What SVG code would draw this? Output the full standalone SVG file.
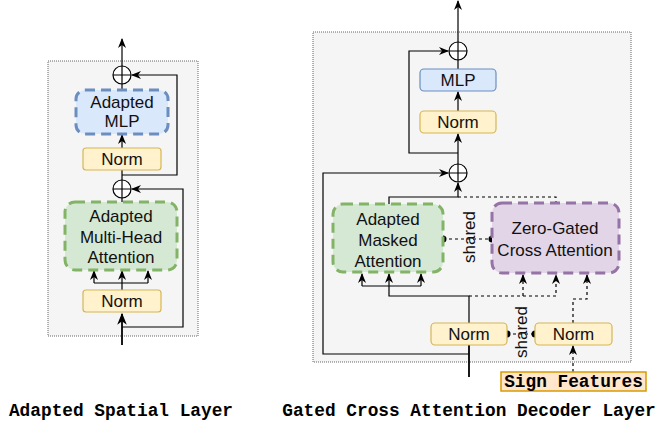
<svg xmlns="http://www.w3.org/2000/svg" width="660" height="423" viewBox="0 0 660 423">
<style>
.panel{fill:#f5f5f5;stroke:#666;stroke-width:1;stroke-dasharray:1 1}
.norm{fill:#fff2cc;stroke:#d6b656;stroke-width:1.2}
.mlp{fill:#dae8fc;stroke:#6c8ebf;stroke-width:1.2}
.amlp{fill:#dae8fc;stroke:#6c8ebf;stroke-width:3;stroke-dasharray:10 6}
.att{fill:#d5e8d4;stroke:#82b366;stroke-width:3;stroke-dasharray:10 6}
.xatt{fill:#e1d5e7;stroke:#9673a6;stroke-width:3;stroke-dasharray:10 6}
.sign{fill:#ffe6cc;stroke:#d79b00;stroke-width:1.5}
.lbl{font-family:"Liberation Sans",Arial,sans-serif;font-size:17px;fill:#111;text-anchor:middle}
.ttl{font-family:"Liberation Mono","Courier New",monospace;font-size:17.8px;font-weight:bold;fill:#000;text-anchor:middle}
.c{fill:none;stroke:#000;stroke-width:1.2}
.thick{stroke-width:1.8}
.d{fill:none;stroke:#000;stroke-width:1.2;stroke-dasharray:3 3}
.plus{fill:#fff;stroke:#000;stroke-width:1.2}
</style>
<defs>
<marker id="arr" viewBox="0 0 10 8" markerWidth="10" markerHeight="8" refX="9" refY="4" orient="auto" markerUnits="userSpaceOnUse">
<path d="M0,0 L10,4 L0,8 L3,4 Z" fill="#000"/>
</marker>
<marker id="arrB" viewBox="0 0 10 8" markerWidth="12" markerHeight="10" refX="9" refY="4" orient="auto" markerUnits="userSpaceOnUse">
<path d="M0,0 L10,4 L0,8 L3,4 Z" fill="#000"/>
</marker>
</defs>

<!-- panels -->
<rect class="panel" x="48" y="61" width="150" height="275"/>
<rect class="panel" x="313" y="32" width="318" height="330"/>

<g id="connectors">
  <!-- left -->
  <path class="c" d="M122,66 V39" marker-end="url(#arr)"/>
  <path class="c" d="M122,90 V84"/>
  <path class="c" d="M122,148 V135" marker-end="url(#arr)"/>
  <path class="c" d="M122,180 V170"/>
  <path class="c" d="M122,175 H177 V75 H132" marker-end="url(#arr)"/>
  <path class="c" d="M122,202 V198"/>
  <path class="c" d="M122,290 V283 M94,283 H148"/>
  <path class="c" d="M94,283 V271" marker-end="url(#arr)"/>
  <path class="c" d="M122,283 V271" marker-end="url(#arr)"/>
  <path class="c" d="M148,283 V271" marker-end="url(#arr)"/>
  <path class="c thick" d="M122,345 V314" marker-end="url(#arrB)"/>
  <path class="c" d="M122,327 H183 V189 H132" marker-end="url(#arr)"/>
  <!-- right -->
  <path class="c" d="M458,42 V1" marker-end="url(#arr)"/>
  <path class="c" d="M458,69 V60"/>
  <path class="c" d="M458,111 V92" marker-end="url(#arr)"/>
  <path class="c" d="M458,153 H409 V51 H448" marker-end="url(#arr)"/>
  <path class="c" d="M458,164 V134" marker-end="url(#arr)"/>
  <path class="c" d="M389,204 V197 H458 V183" marker-end="url(#arr)"/>
  <path class="d" d="M458,197 H556 V203"/>
  <path class="c" d="M469,354 H323 V173 H448" marker-end="url(#arr)"/>
  <path class="c thick" d="M469,377 V345"/>
  <path class="c" d="M469,323 V296 H389 V286 M362,286 H421"/>
  <path class="c" d="M362,286 V274" marker-end="url(#arr)"/>
  <path class="c" d="M389,286 V274" marker-end="url(#arr)"/>
  <path class="c" d="M421,286 V274" marker-end="url(#arr)"/>
  <path class="d" d="M469,296 H556 V275" marker-end="url(#arr)"/>
  <path class="d" d="M523,296 V275" marker-end="url(#arr)"/>
  <path class="d" d="M573,323 V299 H587 V275" marker-end="url(#arr)"/>
  <path class="d" d="M573,372 V346" marker-end="url(#arr)"/>
  <!-- shared links -->
  <path class="d" d="M443,239 H492"/>
  <circle cx="443" cy="239" r="3.5" fill="#000"/>
  <circle cx="492" cy="239" r="3.5" fill="#000"/>
  <path class="d" d="M507,334 H535"/>
  <circle cx="507" cy="334" r="3.5" fill="#000"/>
  <circle cx="535" cy="334" r="3.5" fill="#000"/>
</g>

<!-- left nodes -->
<g id="l-plus1"><circle class="plus" cx="122" cy="75" r="9"/><path class="c" d="M113,75 H131 M122,66 V84"/></g>
<g id="l-mlp"><rect class="amlp" x="76" y="90" width="92" height="44" rx="9"/>
  <text class="lbl" x="122" y="108">Adapted</text><text class="lbl" x="122" y="127">MLP</text></g>
<g id="l-norm1"><rect class="norm" x="83" y="148" width="78" height="22" rx="3"/><text class="lbl" x="122" y="165">Norm</text></g>
<g id="l-plus2"><circle class="plus" cx="122" cy="189" r="9"/><path class="c" d="M113,189 H131 M122,180 V198"/></g>
<g id="l-att"><rect class="att" x="65" y="202" width="112" height="68" rx="10"/>
  <text class="lbl" x="121" y="222">Adapted</text><text class="lbl" x="121" y="243">Multi-Head</text><text class="lbl" x="121" y="263">Attention</text></g>
<g id="l-norm2"><rect class="norm" x="83" y="290" width="78" height="22" rx="3"/><text class="lbl" x="122" y="307">Norm</text></g>

<!-- right nodes -->
<g id="r-plus1"><circle class="plus" cx="458" cy="51" r="9"/><path class="c" d="M449,51 H467 M458,42 V60"/></g>
<g id="r-mlp"><rect class="mlp" x="420" y="69" width="76" height="22" rx="4"/><text class="lbl" x="458" y="86">MLP</text></g>
<g id="r-norm0"><rect class="norm" x="420" y="111" width="76" height="22" rx="4"/><text class="lbl" x="458" y="128">Norm</text></g>
<g id="r-plus2"><circle class="plus" cx="458" cy="173" r="9"/><path class="c" d="M449,173 H467 M458,164 V182"/></g>
<g id="r-att"><rect class="att" x="333" y="204" width="110" height="68" rx="10"/>
  <text class="lbl" x="388" y="225">Adapted</text><text class="lbl" x="388" y="246">Masked</text><text class="lbl" x="388" y="267">Attention</text></g>
<g id="r-xatt"><rect class="xatt" x="492" y="203" width="127" height="70" rx="10"/>
  <text class="lbl" x="555" y="234">Zero-Gated</text><text class="lbl" x="555" y="256">Cross Attention</text></g>
<g id="r-shared1"><text class="lbl" x="469" y="237" dominant-baseline="central" transform="rotate(-90 469 237)">shared</text></g>
<g id="r-norm1"><rect class="norm" x="431" y="323" width="76" height="22" rx="4"/><text class="lbl" x="469" y="340">Norm</text></g>
<g id="r-norm2"><rect class="norm" x="535" y="323" width="77" height="22" rx="4"/><text class="lbl" x="573.5" y="340">Norm</text></g>
<g id="r-shared2"><text class="lbl" x="521" y="332" dominant-baseline="central" transform="rotate(-90 521 332)">shared</text></g>
<g id="sign"><rect class="sign" x="501" y="372" width="145" height="19"/><text class="ttl" x="573.5" y="387">Sign Features</text></g>

<!-- titles -->
<text class="ttl" x="121" y="416">Adapted Spatial Layer</text>
<text class="ttl" x="469" y="416">Gated Cross Attention Decoder Layer</text>
</svg>
